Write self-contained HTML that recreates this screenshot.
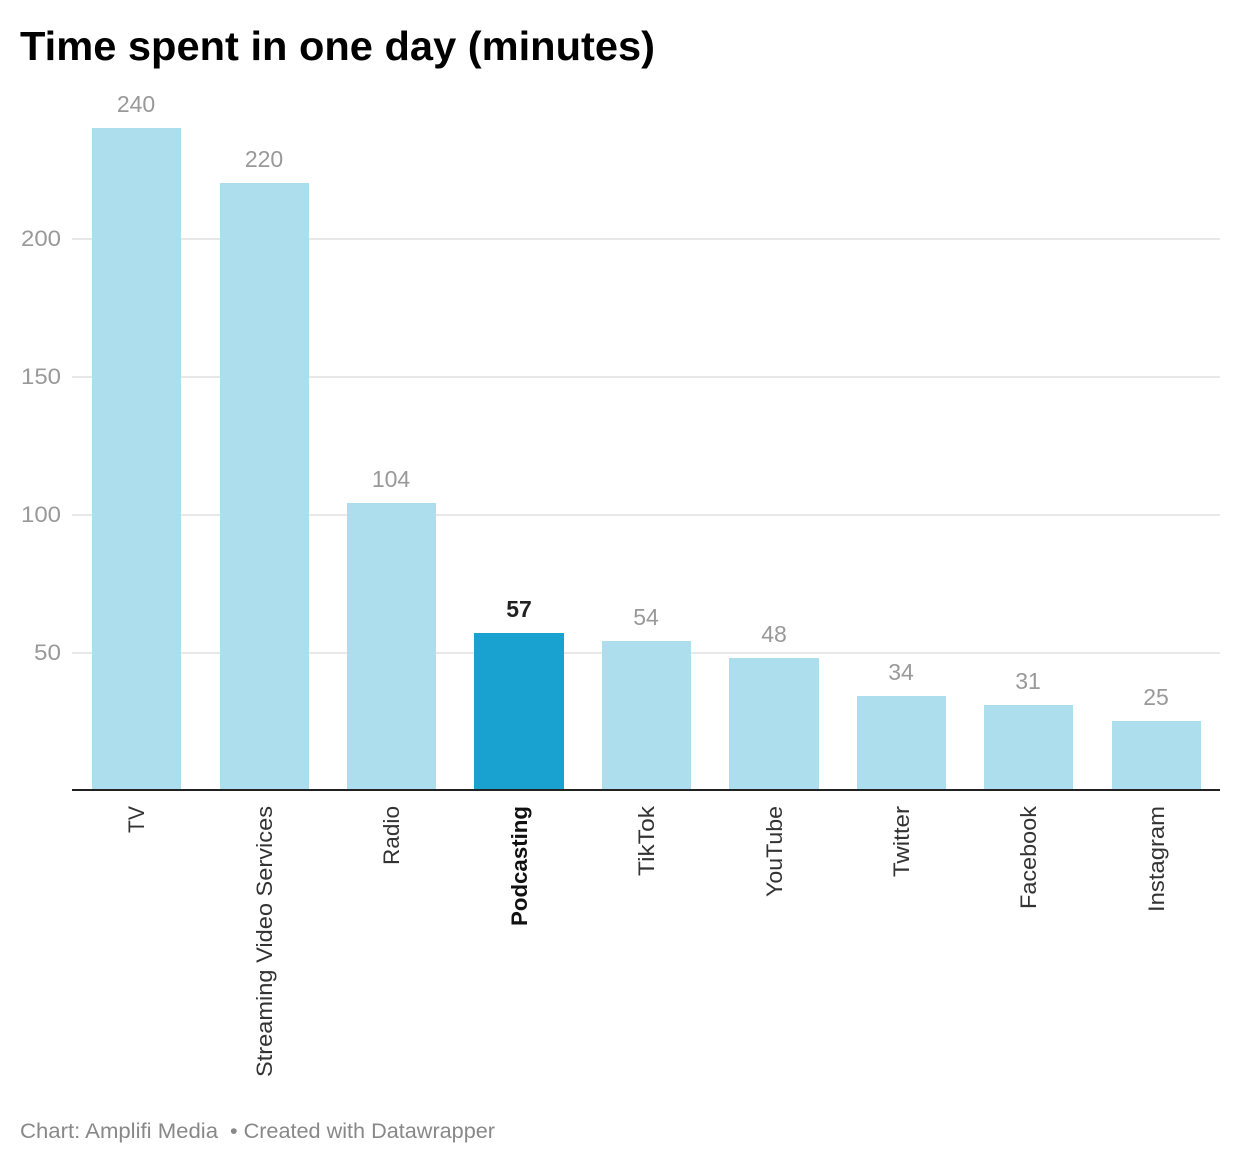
<!DOCTYPE html>
<html><head><meta charset="utf-8"><style>
body{margin:0;background:#fff;}
svg{display:block;font-family:"Liberation Sans",Arial,sans-serif;}
</style></head><body>
<svg width="1240" height="1164" viewBox="0 0 1240 1164">
<text x="20" y="60" font-size="41" font-weight="bold" fill="#000" textLength="635" lengthAdjust="spacingAndGlyphs">Time spent in one day (minutes)</text>
<g stroke="#e0e0e0" stroke-width="1.5">
<line x1="72" x2="1220" y1="239" y2="239"/>
<line x1="72" x2="1220" y1="377" y2="377"/>
<line x1="72" x2="1220" y1="515" y2="515"/>
<line x1="72" x2="1220" y1="653" y2="653"/>
</g>
<g font-size="22" fill="#999" text-anchor="end">
<text x="61" y="246" textLength="40" lengthAdjust="spacingAndGlyphs">200</text>
<text x="61" y="384" textLength="40" lengthAdjust="spacingAndGlyphs">150</text>
<text x="61" y="522" textLength="40" lengthAdjust="spacingAndGlyphs">100</text>
<text x="61" y="660" textLength="27" lengthAdjust="spacingAndGlyphs">50</text>
</g>
<g fill="#addeed">
<rect x="92" y="128" width="89" height="662"/>
<rect x="220" y="183" width="89" height="607"/>
<rect x="347" y="503" width="89" height="287"/>
<rect x="474" y="633" width="90" height="157" fill="#19a2cf"/>
<rect x="602" y="641" width="89" height="149"/>
<rect x="729" y="658" width="90" height="132"/>
<rect x="857" y="696" width="89" height="94"/>
<rect x="984" y="705" width="89" height="85"/>
<rect x="1112" y="721" width="89" height="69"/>
</g>
<line x1="72" x2="1220" y1="790" y2="790" stroke="#222" stroke-width="2"/>
<g font-size="23" fill="#999" text-anchor="middle">
<text x="136" y="112">240</text>
<text x="264" y="167">220</text>
<text x="391" y="487">104</text>
<text x="519" y="617" fill="#222" font-weight="bold">57</text>
<text x="646" y="625">54</text>
<text x="774" y="642">48</text>
<text x="901" y="680">34</text>
<text x="1028" y="689">31</text>
<text x="1156" y="705">25</text>
</g>
<g font-size="22" fill="#333" text-anchor="end" lengthAdjust="spacingAndGlyphs">
<text transform="translate(144,806) rotate(-90)" textLength="27" lengthAdjust="spacingAndGlyphs">TV</text>
<text transform="translate(272,806) rotate(-90)" textLength="271" lengthAdjust="spacingAndGlyphs">Streaming Video Services</text>
<text transform="translate(399,806) rotate(-90)" textLength="59" lengthAdjust="spacingAndGlyphs">Radio</text>
<text transform="translate(527,806) rotate(-90)" font-weight="bold" fill="#111" textLength="120" lengthAdjust="spacingAndGlyphs">Podcasting</text>
<text transform="translate(654,806) rotate(-90)" textLength="70" lengthAdjust="spacingAndGlyphs">TikTok</text>
<text transform="translate(782,806) rotate(-90)" textLength="91" lengthAdjust="spacingAndGlyphs">YouTube</text>
<text transform="translate(909,806) rotate(-90)" textLength="71" lengthAdjust="spacingAndGlyphs">Twitter</text>
<text transform="translate(1036,806) rotate(-90)" textLength="103" lengthAdjust="spacingAndGlyphs">Facebook</text>
<text transform="translate(1164,806) rotate(-90)" textLength="106" lengthAdjust="spacingAndGlyphs">Instagram</text>
</g>
<text x="20" y="1138" font-size="21" fill="#888" textLength="198" lengthAdjust="spacingAndGlyphs">Chart: Amplifi Media</text>
<text x="230" y="1138" font-size="21" fill="#888" textLength="265" lengthAdjust="spacingAndGlyphs">• Created with Datawrapper</text>
</svg>
</body></html>
